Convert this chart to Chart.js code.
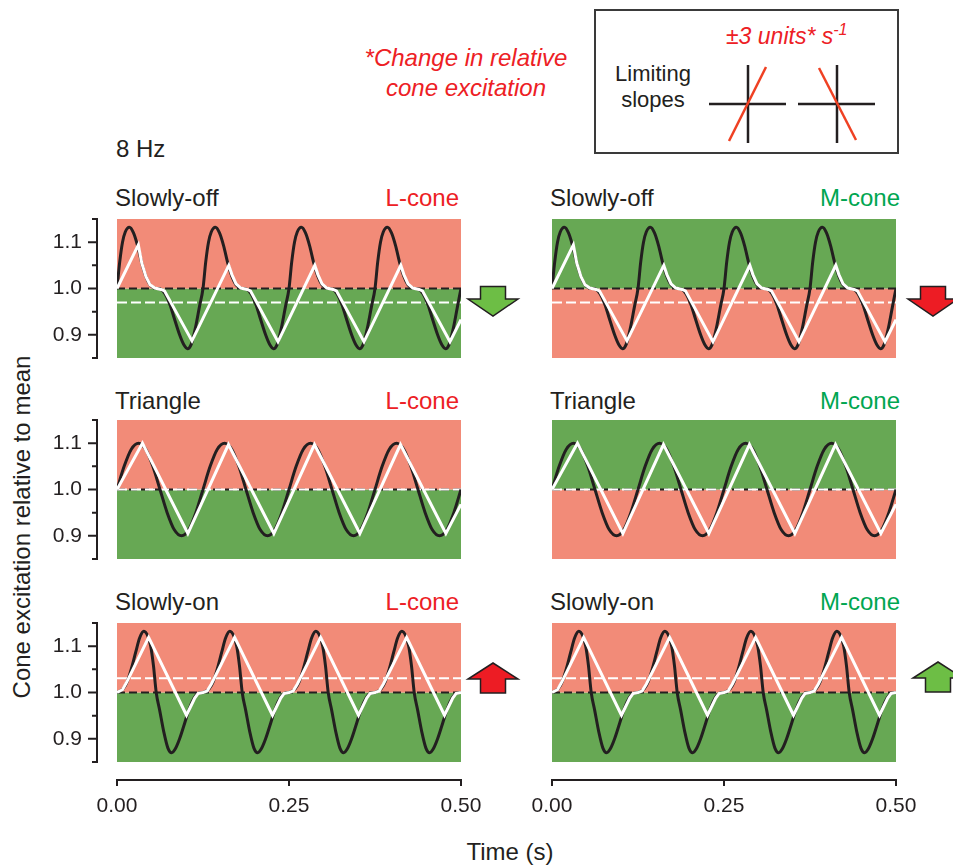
<!DOCTYPE html>
<html>
<head>
<meta charset="utf-8">
<script src="https://cdn.jsdelivr.net/npm/chart.js@4.4.1/dist/chart.umd.min.js"></script>
<style>
  body { margin: 0; background: #fff; }
  #fig { position: relative; width: 953px; height: 865px; overflow: hidden;
         font-family: 'Liberation Sans', Arial, Helvetica, sans-serif; color: #231f20; }
  #fig canvas { position: absolute; }
  .t { position: absolute; white-space: nowrap; line-height: 1; }
  .red { color: #ED2024; }
  .grn { color: #00A651; }
</style>
</head>
<body>
<div id="fig">
  <div class="t" style="left:116px;top:137px;font-size:24px">8 Hz</div>

  <div class="t red" style="left:346px;top:43px;width:240px;text-align:center;font-size:24px;font-style:italic;line-height:30px">*Change in relative<br>cone excitation</div>

  <div style="position:absolute;left:594px;top:9px;width:301px;height:141px;border:2px solid #3a3a3a"></div>
  <div class="t" style="left:593px;top:61px;width:120px;text-align:center;font-size:22px;line-height:26px">Limiting<br>slopes</div>
  <div class="t red" style="left:726px;top:25px;font-size:23px;font-style:italic">&plusmn;3 units* s<span style="font-size:16px;position:relative;top:-9px">-1</span></div>

  <div class="t" style="left:115px;top:186px;font-size:24px">Slowly-off</div>
  <div class="t red" style="left:339px;top:186px;width:120px;text-align:right;font-size:24px">L-cone</div>
  <div class="t" style="left:550px;top:186px;font-size:24px">Slowly-off</div>
  <div class="t grn" style="left:780px;top:186px;width:120px;text-align:right;font-size:24px">M-cone</div>

  <div class="t" style="left:115px;top:389px;font-size:24px">Triangle</div>
  <div class="t red" style="left:339px;top:389px;width:120px;text-align:right;font-size:24px">L-cone</div>
  <div class="t" style="left:550px;top:389px;font-size:24px">Triangle</div>
  <div class="t grn" style="left:780px;top:389px;width:120px;text-align:right;font-size:24px">M-cone</div>

  <div class="t" style="left:115px;top:590px;font-size:24px">Slowly-on</div>
  <div class="t red" style="left:339px;top:590px;width:120px;text-align:right;font-size:24px">L-cone</div>
  <div class="t" style="left:550px;top:590px;font-size:24px">Slowly-on</div>
  <div class="t grn" style="left:780px;top:590px;width:120px;text-align:right;font-size:24px">M-cone</div>

  <div class="t" style="left:21.5px;top:527px;font-size:24px;transform:translate(-50%,-50%) rotate(-90deg)">Cone excitation relative to mean</div>
  <div class="t" style="left:510px;top:840px;font-size:24px;transform:translateX(-50%)">Time (s)</div>

  <svg width="953" height="865" style="position:absolute;left:0;top:0;z-index:2">
    <g stroke="#231f20" stroke-width="2.5">
      <line x1="709" y1="104" x2="786" y2="104"/>
      <line x1="748" y1="65" x2="748" y2="143"/>
      <line x1="798" y1="104" x2="875" y2="104"/>
      <line x1="837" y1="65" x2="837" y2="143"/>
    </g>
    <g stroke="#EF4123" stroke-width="2.5">
      <line x1="729" y1="141" x2="766" y2="67"/>
      <line x1="819" y1="68" x2="856" y2="140"/>
    </g>
    <g stroke="#231f20" stroke-width="1.5" stroke-linejoin="miter">
      <polygon fill="#6DBE45" points="480.5,286.5 505.5,286.5 505.5,299 518,299 493,316 468,299 480.5,299"/>
      <polygon fill="#ED1C24" points="920.5,286.5 945.5,286.5 945.5,299 958,299 933,316 908,299 920.5,299"/>
      <polygon fill="#ED1C24" points="493,663 518,679 505.5,679 505.5,693 480.5,693 480.5,679 468,679"/>
      <polygon fill="#6DBE45" points="938,662 963,678 950.5,678 950.5,692 925.5,692 925.5,678 913,678"/>
    </g>
  </svg>
</div>

<script>
// time axis ticks and value range
const xTickLabels = ['0.00', '0.25', '0.50'];
const yMin = 0.85;
const yMax = 1.15;

// slowly-off waveform, black (8 Hz, 4 cycles)
const offTime = [
  0, 0.004, 0.008, 0.012, 0.018, 0.024, 0.030, 0.036, 0.042, 0.048, 0.055, 0.064, 0.070, 0.077, 0.084, 0.091, 0.097, 0.1025, 0.108, 0.114, 0.120,
  0.125, 0.129, 0.133, 0.137, 0.143, 0.149, 0.155, 0.161, 0.167, 0.173, 0.180, 0.189, 0.195, 0.202, 0.209, 0.216, 0.222, 0.2275, 0.233, 0.239, 0.245,
  0.250, 0.254, 0.258, 0.262, 0.268, 0.274, 0.280, 0.286, 0.292, 0.298, 0.305, 0.314, 0.320, 0.327, 0.334, 0.341, 0.347, 0.3525, 0.358, 0.364, 0.370,
  0.375, 0.379, 0.383, 0.387, 0.393, 0.399, 0.405, 0.411, 0.417, 0.423, 0.430, 0.439, 0.445, 0.452, 0.459, 0.466, 0.472, 0.4775, 0.483, 0.489, 0.495,
  0.500
];
const offBlack = [
  1.000, 1.058, 1.100, 1.122, 1.132, 1.120, 1.092, 1.055, 1.026, 1.008, 1.001, 0.998, 0.988, 0.965, 0.932, 0.900, 0.879, 0.870, 0.880, 0.915, 0.962,
  1.000, 1.058, 1.100, 1.122, 1.132, 1.120, 1.092, 1.055, 1.026, 1.008, 1.001, 0.998, 0.988, 0.965, 0.932, 0.900, 0.879, 0.870, 0.880, 0.915, 0.962,
  1.000, 1.058, 1.100, 1.122, 1.132, 1.120, 1.092, 1.055, 1.026, 1.008, 1.001, 0.998, 0.988, 0.965, 0.932, 0.900, 0.879, 0.870, 0.880, 0.915, 0.962,
  1.000, 1.058, 1.100, 1.122, 1.132, 1.120, 1.092, 1.055, 1.026, 1.008, 1.001, 0.998, 0.988, 0.965, 0.932, 0.900, 0.879, 0.870, 0.880, 0.915, 0.962,
  1.000
];
// slowly-off, slope-limited (white)
const offWhiteTime = [0, 0.031, 0.036, 0.042, 0.048, 0.055, 0.064, 0.069, 0.109, 0.1625, 0.167, 0.173, 0.180, 0.189, 0.194, 0.234,
  0.2875, 0.292, 0.298, 0.305, 0.314, 0.319, 0.359, 0.4125, 0.417, 0.423, 0.430, 0.439, 0.444, 0.484, 0.500];
const offWhite = [1.000, 1.094, 1.055, 1.026, 1.008, 1.001, 0.998, 0.995, 0.887, 1.050, 1.030, 1.010, 1.001, 0.998, 0.995, 0.885,
  1.050, 1.030, 1.010, 1.001, 0.998, 0.995, 0.885, 1.050, 1.030, 1.010, 1.001, 0.998, 0.995, 0.885, 0.933];

// triangle condition, black sinusoid
const triTime = [
  0, 0.0104, 0.0208, 0.0313, 0.0417, 0.0521, 0.0625, 0.0729, 0.0833, 0.0938, 0.1042, 0.1146,
  0.125, 0.1354, 0.1458, 0.1563, 0.1667, 0.1771, 0.1875, 0.1979, 0.2083, 0.2188, 0.2292, 0.2396,
  0.250, 0.2604, 0.2708, 0.2813, 0.2917, 0.3021, 0.3125, 0.3229, 0.3333, 0.3438, 0.3542, 0.3646,
  0.375, 0.3854, 0.3958, 0.4063, 0.4167, 0.4271, 0.4375, 0.4479, 0.4583, 0.4688, 0.4792, 0.4896,
  0.500
];
const triBlack = [
  1.000, 1.050, 1.087, 1.100, 1.087, 1.050, 1.000, 0.950, 0.913, 0.900, 0.913, 0.950,
  1.000, 1.050, 1.087, 1.100, 1.087, 1.050, 1.000, 0.950, 0.913, 0.900, 0.913, 0.950,
  1.000, 1.050, 1.087, 1.100, 1.087, 1.050, 1.000, 0.950, 0.913, 0.900, 0.913, 0.950,
  1.000, 1.050, 1.087, 1.100, 1.087, 1.050, 1.000, 0.950, 0.913, 0.900, 0.913, 0.950,
  1.000
];
const triWhiteTime = [0, 0.037, 0.103, 0.162, 0.228, 0.287, 0.353, 0.412, 0.478, 0.500];
const triWhite = [1.000, 1.100, 0.905, 1.097, 0.905, 1.097, 0.905, 1.097, 0.905, 0.968];

// slowly-on waveform, black
const onTime = [
  0, 0.009, 0.015, 0.021, 0.027, 0.033, 0.039, 0.045, 0.049, 0.053, 0.057, 0.062, 0.068, 0.074, 0.0795, 0.085, 0.091, 0.098, 0.105, 0.112, 0.118,
  0.125, 0.134, 0.140, 0.146, 0.152, 0.158, 0.164, 0.170, 0.174, 0.178, 0.182, 0.187, 0.193, 0.199, 0.2045, 0.210, 0.216, 0.223, 0.230, 0.237, 0.243,
  0.250, 0.259, 0.265, 0.271, 0.277, 0.283, 0.289, 0.295, 0.299, 0.303, 0.307, 0.312, 0.318, 0.324, 0.3295, 0.335, 0.341, 0.348, 0.355, 0.362, 0.368,
  0.375, 0.384, 0.390, 0.396, 0.402, 0.408, 0.414, 0.420, 0.424, 0.428, 0.432, 0.437, 0.443, 0.449, 0.4545, 0.460, 0.466, 0.473, 0.480, 0.487, 0.493,
  0.500
];
const onBlack = [
  1.000, 1.008, 1.024, 1.052, 1.086, 1.118, 1.132, 1.121, 1.100, 1.058, 1.000, 0.962, 0.915, 0.880, 0.870, 0.879, 0.900, 0.932, 0.965, 0.988, 0.998,
  1.000, 1.008, 1.024, 1.052, 1.086, 1.118, 1.132, 1.121, 1.100, 1.058, 1.000, 0.962, 0.915, 0.880, 0.870, 0.879, 0.900, 0.932, 0.965, 0.988, 0.998,
  1.000, 1.008, 1.024, 1.052, 1.086, 1.118, 1.132, 1.121, 1.100, 1.058, 1.000, 0.962, 0.915, 0.880, 0.870, 0.879, 0.900, 0.932, 0.965, 0.988, 0.998,
  1.000, 1.008, 1.024, 1.052, 1.086, 1.118, 1.132, 1.121, 1.100, 1.058, 1.000, 0.962, 0.915, 0.880, 0.870, 0.879, 0.900, 0.932, 0.965, 0.988, 0.998,
  1.000
];
const onWhiteTime = [0, 0.008, 0.014, 0.046, 0.101, 0.113, 0.118, 0.125, 0.131, 0.137, 0.171, 0.226, 0.238, 0.243, 0.250, 0.256, 0.262,
  0.296, 0.351, 0.363, 0.368, 0.375, 0.381, 0.387, 0.421, 0.476, 0.488, 0.493, 0.500];
const onWhite = [1.000, 1.006, 1.022, 1.119, 0.951, 0.988, 0.998, 1.000, 1.003, 1.018, 1.119, 0.951, 0.988, 0.998, 1.000, 1.003, 1.018,
  1.119, 0.951, 0.988, 0.998, 1.000, 1.003, 1.018, 1.119, 0.951, 0.988, 0.998, 1.000];

// mean of the white trace per waveform (off, triangle, on)
const whiteMeans = [0.970, 1.000, 1.031];

const SALMON = '#F28B78';
const GREEN = '#67A854';
const INK = '#231f20';

Chart.defaults.font.family = "'Liberation Sans', Arial, Helvetica, sans-serif";
Chart.defaults.color = INK;
Chart.defaults.elements.point.radius = 0;

const pts = (ts, vs) => ts.map((t, i) => ({ x: t, y: vs[i] }));
const level = v => [{ x: 0, y: v }, { x: 0.5, y: v }];

// offset spines with outward ticks, drawn from the chart's own scales
const axisLines = {
  id: 'axisLines',
  afterDraw(chart, args, opts) {
    const ctx = chart.ctx;
    const area = chart.chartArea;
    const xs = chart.scales.x, ys = chart.scales.y;
    ctx.save();
    ctx.strokeStyle = INK;
    ctx.lineWidth = 2;
    ctx.beginPath();
    if (opts.y) {
      const x0 = area.left - 20;
      ctx.moveTo(x0, ys.getPixelForValue(yMax) - 1);
      ctx.lineTo(x0, ys.getPixelForValue(yMin) + 1);
      ys.ticks.forEach(t => {
        const p = ys.getPixelForValue(t.value);
        ctx.moveTo(x0 + 1, p);
        ctx.lineTo(x0 - (t.label ? 9 : 5), p);
      });
    }
    if (opts.x) {
      const y0 = area.bottom + 18;
      ctx.moveTo(xs.getPixelForValue(0) - 1, y0);
      ctx.lineTo(xs.getPixelForValue(0.5) + 1, y0);
      xs.ticks.forEach(t => {
        const p = xs.getPixelForValue(t.value);
        ctx.moveTo(p, y0 - 1);
        ctx.lineTo(p, y0 + 6);
      });
    }
    ctx.stroke();
    ctx.restore();
  }
};

const panels = [
  { row: 0, col: 0, black: [offTime, offBlack], white: [offWhiteTime, offWhite], mean: whiteMeans[0], top: SALMON, bottom: GREEN },
  { row: 0, col: 1, black: [offTime, offBlack], white: [offWhiteTime, offWhite], mean: whiteMeans[0], top: GREEN, bottom: SALMON },
  { row: 1, col: 0, black: [triTime, triBlack], white: [triWhiteTime, triWhite], mean: whiteMeans[1], top: SALMON, bottom: GREEN },
  { row: 1, col: 1, black: [triTime, triBlack], white: [triWhiteTime, triWhite], mean: whiteMeans[1], top: GREEN, bottom: SALMON },
  { row: 2, col: 0, black: [onTime, onBlack], white: [onWhiteTime, onWhite], mean: whiteMeans[2], top: SALMON, bottom: GREEN },
  { row: 2, col: 1, black: [onTime, onBlack], white: [onWhiteTime, onWhite], mean: whiteMeans[2], top: SALMON, bottom: GREEN }
];

const rowTops = [219, 420, 623];
const plotH = 139;
const plotW = 344;
const fig = document.getElementById('fig');

panels.forEach(p => {
  const showY = p.col === 0;
  const showX = p.row === 2;
  const canvas = document.createElement('canvas');
  // left column plot starts at x=117, right column at x=552
  const pad = showY ? { top: 10, bottom: showX ? 0 : 10, left: 0, right: 34 }
                    : { top: 10, bottom: showX ? 0 : 10, left: 32, right: 30 };
  const left = showY ? 0 : 520;
  const width = (showY ? 117 : 0) + pad.left + plotW + pad.right;
  const height = 10 + plotH + (showX ? 60 : 10);
  canvas.width = width;
  canvas.height = height;
  canvas.style.left = left + 'px';
  canvas.style.top = (rowTops[p.row] - 10) + 'px';
  fig.insertBefore(canvas, fig.querySelector('svg'));

  new Chart(canvas, {
    type: 'line',
    data: {
      datasets: [
        { data: pts(p.white[0], p.white[1]), borderColor: '#ffffff', borderWidth: 3, tension: 0, order: 1 },
        { data: pts(p.black[0], p.black[1]), borderColor: INK, borderWidth: 3, cubicInterpolationMode: 'monotone', order: 2 },
        { data: level(p.mean), borderColor: '#ffffff', borderWidth: 2, borderDash: [10, 4], order: 3 },
        { data: level(1), borderColor: INK, borderWidth: 2, borderDash: [8, 4], order: 4 },
        { data: level(yMax), fill: { value: 1 }, backgroundColor: p.top, borderColor: 'rgba(0,0,0,0)', borderWidth: 0, order: 5 },
        { data: level(yMin), fill: { value: 1 }, backgroundColor: p.bottom, borderColor: 'rgba(0,0,0,0)', borderWidth: 0, order: 6 }
      ]
    },
    options: {
      responsive: false,
      animation: false,
      devicePixelRatio: 1,
      layout: { padding: pad },
      plugins: {
        legend: { display: false },
        tooltip: { enabled: false },
        axisLines: { x: showX, y: showY }
      },
      scales: {
        x: {
          type: 'linear', min: 0, max: 0.5, display: showX,
          grid: { display: false, drawTicks: false },
          border: { display: false },
          ticks: { stepSize: 0.25, padding: 32, font: { size: 21 }, maxRotation: 0,
                   callback: (v, i) => xTickLabels[i] },
          afterFit: s => { s.paddingLeft = 0; s.paddingRight = 0; if (showX) s.height = 60; }
        },
        y: {
          type: 'linear', min: yMin, max: yMax, display: showY,
          grid: { display: false, drawTicks: false },
          border: { display: false },
          ticks: { stepSize: 0.05, padding: 35, autoSkip: false, font: { size: 21 },
                   callback: v => Math.abs(v * 10 - Math.round(v * 10)) < 1e-6 ? v.toFixed(1) : '' },
          afterFit: s => { s.paddingTop = 0; s.paddingBottom = 0; if (showY) s.width = 117; }
        }
      }
    },
    plugins: [axisLines]
  });
});
</script>
</body>
</html>
